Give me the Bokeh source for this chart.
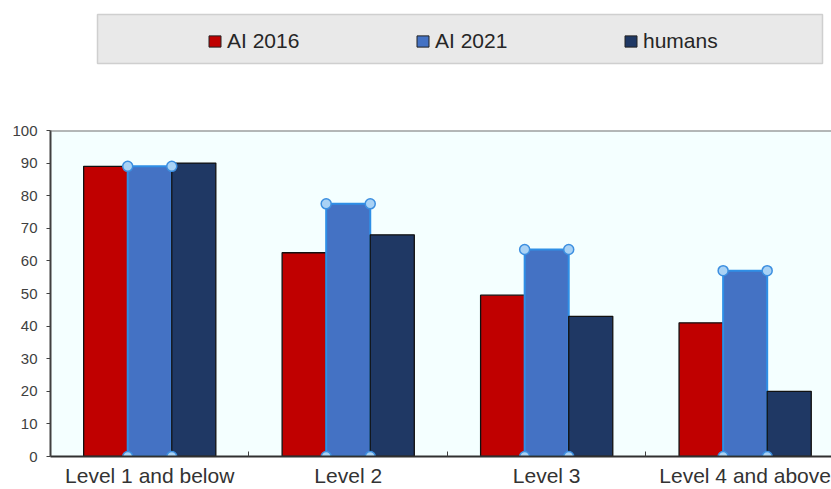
from bokeh.plotting import figure
from bokeh.models import Range1d, FixedTicker, Span, Legend, LegendItem, ColumnDataSource
from bokeh.layouts import column
from bokeh.embed import file_html
from bokeh.resources import INLINE

# ---- data ----
categories = ["Level 1 and below", "Level 2", "Level 3", "Level 4 and above"]
series_names = ["AI 2016", "AI 2021", "humans"]
ai_2016 = [89, 62.5, 49.5, 41]
ai_2021 = [89, 77.5, 63.5, 57]
humans = [90, 68, 43, 20]
y_ticks = [0, 10, 20, 30, 40, 50, 60, 70, 80, 90, 100]

colors = ["#C00000", "#4472C4", "#1F3864"]
FONT = "Liberation Sans"

n = len(categories)
centers = [i + 0.5 for i in range(n)]
bar_w = 0.222
offsets = [-bar_w, 0.0, bar_w]
series = [ai_2016, ai_2021, humans]

# ---- main chart ----
main = figure(width=831, height=419, x_range=Range1d(0, 3.935), y_range=Range1d(0, 100),
              output_backend="svg", toolbar_location=None,
              min_border_left=50, min_border_right=0, min_border_top=60, min_border_bottom=33)
main.background_fill_color = "#F4FFFF"
main.border_fill_color = "white"
main.outline_line_color = None
main.xgrid.visible = False
main.ygrid.visible = False

for k, (vals, col, off) in enumerate(zip(series, colors, offsets)):
    src = ColumnDataSource(dict(x=[c + off for c in centers], top=vals, cat=categories))
    if k == 1:
        main.vbar(x="x", top="top", width=bar_w, source=src, fill_color=col,
                  line_color="#2F8FE6", line_width=2)
    else:
        main.vbar(x="x", top="top", width=bar_w, source=src, fill_color=col,
                  line_color="#111111", line_width=1.3)

# selection handles on the AI 2021 bars
hx, hy = [], []
for c, v in zip(centers, ai_2021):
    for dx in (-bar_w / 2, bar_w / 2):
        hx += [c + dx, c + dx]
        hy += [0, v]
main.scatter(x=hx, y=hy, size=10, marker="circle", fill_color="#A9D2F5",
             line_color="#3D8FE0", line_width=1.5)

main.add_layout(Span(location=100, dimension="width", line_color="#707070", line_width=2))

xa = main.xaxis[0]
xa.ticker = FixedTicker(ticks=centers, minor_ticks=[1, 2, 3])
xa.major_label_overrides = {c: lab for c, lab in zip(centers, categories)}
xa.major_tick_in = 0
xa.major_tick_out = 0
xa.minor_tick_in = 5
xa.minor_tick_out = 0
xa.minor_tick_line_color = "#404040"
xa.axis_line_color = "#303030"
xa.axis_line_width = 2
xa.major_label_text_font = FONT
xa.major_label_text_font_size = "21px"
xa.major_label_text_color = "#333333"
xa.major_label_standoff = 7

ya = main.yaxis[0]
ya.ticker = FixedTicker(ticks=y_ticks)
ya.major_tick_out = 4
ya.major_tick_in = 0
ya.minor_tick_line_color = None
ya.axis_line_color = "#404040"
ya.axis_line_width = 2
ya.major_tick_line_color = "#404040"
ya.major_label_text_font = FONT
ya.major_label_text_font_size = "15px"
ya.major_label_text_color = "#404040"
ya.major_label_standoff = 9

# ---- legend panel ----
top = figure(width=831, height=70, x_range=Range1d(0, 781), y_range=Range1d(0, 70),
             output_backend="svg", toolbar_location=None,
             x_axis_location=None, y_axis_location=None,
             min_border_left=50, min_border_right=0, min_border_top=0, min_border_bottom=0)
top.background_fill_color = "white"
top.border_fill_color = "white"
top.outline_line_color = None
top.xgrid.visible = False
top.ygrid.visible = False

# legend frame box
top.quad(left=[47], right=[772], bottom=[7], top=[56], fill_color="#E9E9E9",
         line_color="#CFCFCF", line_width=1.5)

items = []
for name, col in zip(series_names, colors):
    r = top.vbar(x=[-100], top=[0], width=1, fill_color=col, line_color="#222222", line_width=1)
    items.append(LegendItem(label=name, renderers=[r]))

legend = Legend(items=items, location=(157, 17), orientation="horizontal",
                padding=0, margin=0, spacing=0, glyph_width=15, glyph_height=14,
                label_standoff=5, label_width=188, label_height=14,
                label_text_font=FONT, label_text_font_size="21px",
                label_text_color="#262626",
                background_fill_alpha=0, border_line_alpha=0)
top.add_layout(legend, "center")

layout = column(top, main)
open("out.html", "w").write(file_html(layout, INLINE))
